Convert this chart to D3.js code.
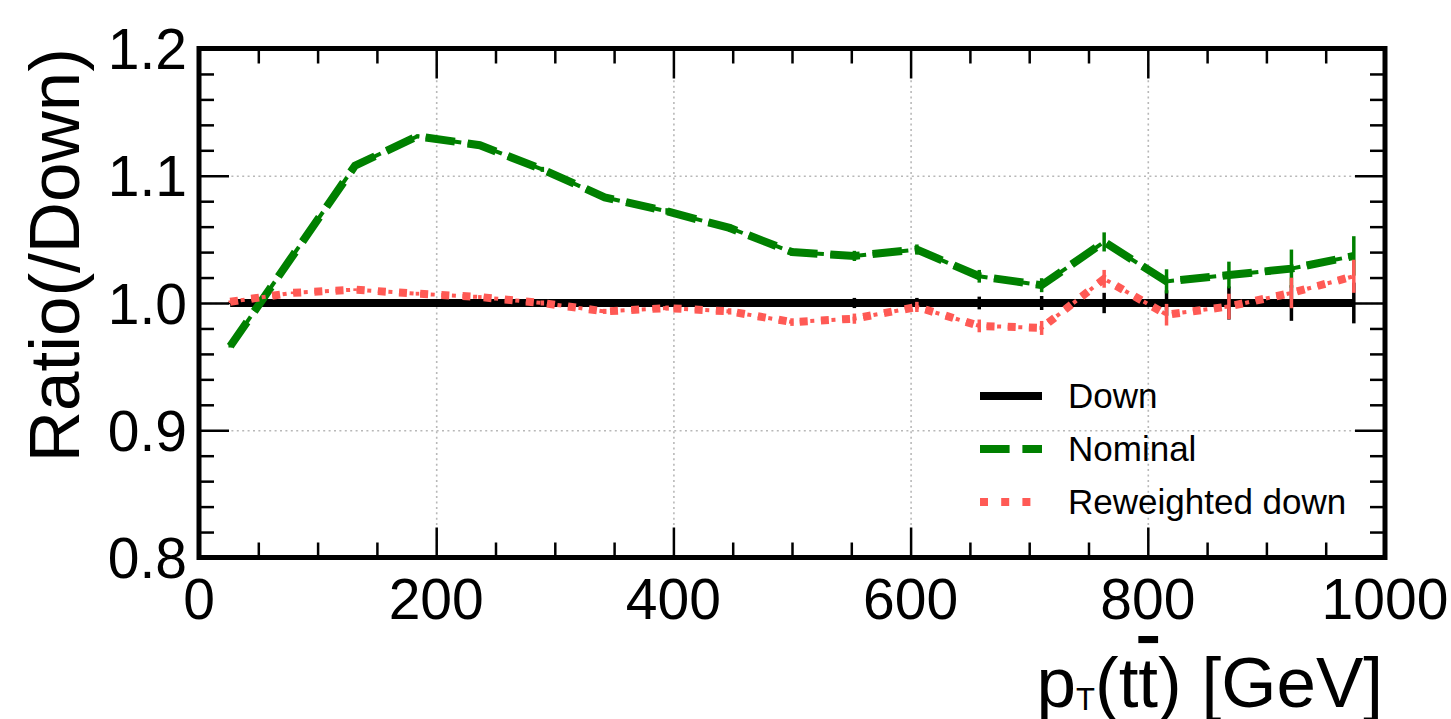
<!DOCTYPE html>
<html lang="en">
<head>
    <meta charset="UTF-8">
    <title>Ratio (/Down) - pT(ttbar)</title>
    <style>
        body { margin: 0; background: #fff; }
        text { font-family: "Liberation Sans", Arial, sans-serif; fill: #000; }
        .tick-label { font-size: 57px; }
        .axis-label { font-size: 71px; }
        .legend-text { font-size: 35px; }
        .grid line { stroke: #b8b8b8; stroke-width: 1.6; stroke-dasharray: 2 3.4; }
        .grid path { display: none; }
        .ticks path { display: none; }
    </style>
</head>
<body>

<svg width="1451" height="719"></svg>

<script src="https://d3js.org/d3.v7.min.js"></script>
<script>

    // Bin centres (19 equal bins over 0-1000 GeV)
    const binCenters = [26.3, 78.9, 131.6, 184.2, 236.8, 289.5, 342.1, 394.7, 447.4, 500.0,
                        552.6, 605.3, 657.9, 710.5, 763.2, 815.8, 868.4, 921.1, 973.7];

    // Ratios to "Down"
    const downRatio = [1.0, 1.0, 1.0, 1.0, 1.0, 1.0, 1.0, 1.0, 1.0, 1.0,
                       1.0, 1.0, 1.0, 1.0, 1.0, 1.0, 1.0, 1.0, 1.0];
    const downErr = [0.001, 0.001, 0.001, 0.0015, 0.0015, 0.002, 0.002, 0.002, 0.0025, 0.003,
                     0.004, 0.004, 0.005, 0.0055, 0.008, 0.01, 0.013, 0.014, 0.016];

    const nominalRatio = [0.966, 1.037, 1.108, 1.131, 1.124, 1.105, 1.083, 1.072, 1.059, 1.040,
                          1.037, 1.042, 1.021, 1.014, 1.048, 1.017, 1.022, 1.027, 1.037];
    const nominalErr = [0.001, 0.001, 0.0015, 0.0015, 0.002, 0.002, 0.002, 0.0025, 0.003, 0.003,
                        0.004, 0.004, 0.005, 0.0055, 0.0075, 0.0095, 0.0105, 0.015, 0.0155];

    const reweightedRatio = [1.001, 1.008, 1.0105, 1.0073, 1.0047, 1.000, 0.9934, 0.996, 0.9934, 0.985,
                             0.9877, 0.9969, 0.982, 0.9804, 1.019, 0.9908, 0.9973, 1.0079, 1.021];
    const reweightedErr = [0.001, 0.001, 0.001, 0.0015, 0.0015, 0.002, 0.002, 0.002, 0.0025, 0.003,
                           0.004, 0.004, 0.005, 0.0055, 0.007, 0.0085, 0.01, 0.012, 0.013];

    const xMajorTicks = [0, 200, 400, 600, 800, 1000];
    const yMajorTicks = [0.8, 0.9, 1.0, 1.1, 1.2];
    const xGridTicks = [200, 400, 600, 800];
    const yGridTicks = [0.9, 1.0, 1.1];

    const seriesNames = ['Down', 'Nominal', 'Reweighted down'];

    // line width and dash patterns scale with the width (matplotlib style)
    const lw = 8;
    const styles = [
        { color: '#000000', dash: null },
        { color: '#008000', dash: [3.7, 1.6] },
        { color: '#ff5a55', dash: [1, 1.65] }
    ];

    const margin = { left: 199, right: 66, top: 48.5, bottom: 161.5 };

    const svg = d3.select('svg');
    const width = +svg.attr('width');
    const height = +svg.attr('height');
    const innerWidth = width - margin.left - margin.right;
    const innerHeight = height - margin.top - margin.bottom;

    const xScale = d3.scaleLinear().domain([0, 1000]).range([0, innerWidth]);
    const yScale = d3.scaleLinear().domain([0.8, 1.2]).range([innerHeight, 0]);

    const group = svg.append('g')
        .attr('transform', 'translate(' + margin.left + ' ' + margin.top + ')');

    // Dotted grid at the major ticks
    group.append('g')
        .attr('class', 'grid')
        .attr('transform', 'translate(0 ' + innerHeight + ')')
        .call(d3.axisBottom(xScale).tickValues(xGridTicks).tickSize(-innerHeight).tickFormat(''))
        .selectAll('text').remove();

    group.append('g')
        .attr('class', 'grid')
        .call(d3.axisLeft(yScale).tickValues(yGridTicks).tickSize(-innerWidth).tickFormat(''))
        .selectAll('text').remove();

    // Data series
    const dashFor = function (style, w) {
        return style.dash ? style.dash.map(function (v) { return v * w; }).join(' ') : null;
    };

    const series = [
        { values: downRatio, errors: downErr, style: styles[0] },
        { values: nominalRatio, errors: nominalErr, style: styles[1] },
        { values: reweightedRatio, errors: reweightedErr, style: styles[2] }
    ];

    const line = d3.line()
        .x(function (d) { return xScale(d[0]); })
        .y(function (d) { return yScale(d[1]); });

    series.forEach(function (s) {
        const pts = binCenters.map(function (c, i) { return [c, s.values[i], s.errors[i]]; });
        const g = group.append('g');

        // error bars
        g.selectAll('line.err')
            .data(pts)
            .enter()
            .append('line')
            .attr('class', 'err')
            .attr('x1', function (d) { return xScale(d[0]); })
            .attr('x2', function (d) { return xScale(d[0]); })
            .attr('y1', function (d) { return yScale(d[1] - d[2]); })
            .attr('y2', function (d) { return yScale(d[1] + d[2]); })
            .attr('stroke', s.style.color)
            .attr('stroke-width', 3.5);

        // thick line
        g.append('path')
            .datum(pts)
            .attr('d', line)
            .attr('fill', 'none')
            .attr('stroke', s.style.color)
            .attr('stroke-width', lw)
            .attr('stroke-dasharray', dashFor(s.style, lw));

        // thinner overlay line of the error-bar plot
        g.append('path')
            .datum(pts)
            .attr('d', line)
            .attr('fill', 'none')
            .attr('stroke', s.style.color)
            .attr('stroke-width', lw / 2)
            .attr('stroke-dasharray', dashFor(s.style, lw / 2));
    });

    // Inward ticks on all four sides
    const addTicks = function (axis, transform, values, size) {
        const tg = group.append('g')
            .attr('class', 'ticks')
            .attr('transform', transform)
            .call(axis.tickValues(values).tickSize(-size).tickFormat(''));
        tg.selectAll('text').remove();
        tg.selectAll('line')
            .attr('stroke', '#000')
            .attr('stroke-width', 2.5);
    };

    const xMinor = d3.range(0, 1001, 50).filter(function (v) { return v % 200 !== 0; });
    const yMinor = d3.range(80, 121, 2).map(function (v) { return v / 100; })
        .filter(function (v) { return Math.round(v * 100) % 10 !== 0; });

    addTicks(d3.axisBottom(xScale), 'translate(0 ' + innerHeight + ')', xMajorTicks, 30);
    addTicks(d3.axisBottom(xScale), 'translate(0 ' + innerHeight + ')', xMinor, 15);
    addTicks(d3.axisTop(xScale), 'translate(0 0)', xMajorTicks, 30);
    addTicks(d3.axisTop(xScale), 'translate(0 0)', xMinor, 15);
    addTicks(d3.axisLeft(yScale), 'translate(0 0)', yMajorTicks, 30);
    addTicks(d3.axisLeft(yScale), 'translate(0 0)', yMinor, 15);
    addTicks(d3.axisRight(yScale), 'translate(' + innerWidth + ' 0)', yMajorTicks, 30);
    addTicks(d3.axisRight(yScale), 'translate(' + innerWidth + ' 0)', yMinor, 15);

    // Frame
    group.append('rect')
        .attr('width', innerWidth)
        .attr('height', innerHeight)
        .attr('fill', 'none')
        .attr('stroke', '#000')
        .attr('stroke-width', 5);

    // Tick labels
    group.selectAll('text.xtick')
        .data(xMajorTicks)
        .enter()
        .append('text')
        .attr('class', 'tick-label xtick')
        .attr('x', function (d) { return xScale(d); })
        .attr('y', innerHeight + 61)
        .attr('text-anchor', 'middle')
        .text(function (d) { return d; });

    group.selectAll('text.ytick')
        .data(yMajorTicks)
        .enter()
        .append('text')
        .attr('class', 'tick-label ytick')
        .attr('x', -12)
        .attr('y', function (d) { return yScale(d) + 20.5; })
        .attr('text-anchor', 'end')
        .text(function (d) { return d3.format('.1f')(d); });

    // Axis labels
    const xLab = svg.append('text')
        .attr('class', 'axis-label')
        .attr('x', 1383)
        .attr('y', 707)
        .attr('text-anchor', 'end');
    xLab.append('tspan').text('p');
    xLab.append('tspan').attr('font-size', 31).attr('dy', 3).text('T');
    xLab.append('tspan').attr('dy', -3).text('(t');
    xLab.append('tspan').style('text-decoration', 'overline').text('t');
    xLab.append('tspan').text(') [GeV]');

    svg.append('text')
        .attr('class', 'axis-label')
        .attr('transform', 'translate(79 48) rotate(-90)')
        .attr('text-anchor', 'end')
        .text('Ratio(/Down)');

    // Legend
    const legend = svg.append('g').attr('transform', 'translate(980 396)');
    seriesNames.forEach(function (name, i) {
        const row = legend.append('g').attr('transform', 'translate(0 ' + (i * 53) + ')');
        row.append('line')
            .attr('x1', 0)
            .attr('x2', 62)
            .attr('stroke', styles[i].color)
            .attr('stroke-width', lw)
            .attr('stroke-dasharray', dashFor(styles[i], lw));
        row.append('text')
            .attr('class', 'legend-text')
            .attr('x', 88)
            .attr('y', 12)
            .text(name);
    });

</script>
</body>
</html>
